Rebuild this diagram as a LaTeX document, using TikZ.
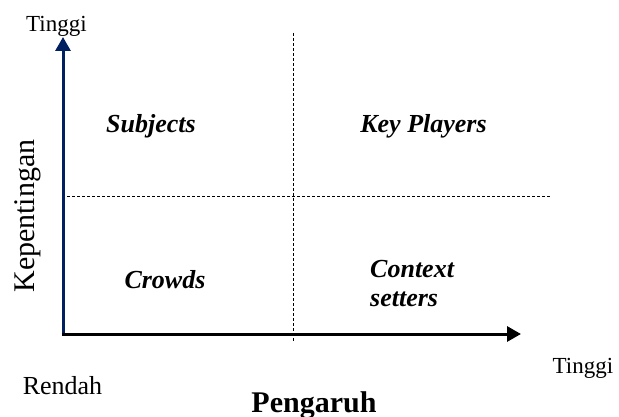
\documentclass[tikz,border=0pt]{standalone}
\usepackage{fontspec}
\setmainfont{Liberation Serif}
\usetikzlibrary{arrows.meta}
\definecolor{axisblue}{RGB}{0,32,96}
\tikzset{
  small/.style={font=\fontsize{23}{25}\selectfont, inner sep=0pt, anchor=base},
  title/.style={font=\fontsize{30}{32}\selectfont, inner sep=0pt},
  quad/.style={font=\fontsize{26}{28}\selectfont\bfseries\itshape, inner sep=0pt, anchor=base},
  axisline/.style={line width=3pt, -{Triangle[length=14pt,width=15pt]}},
  divider/.style={line width=0.9pt, dash pattern=on 3pt off 2pt}
}
\begin{document}
\begin{tikzpicture}[x=1pt,y=-1pt]
\useasboundingbox (0,0) rectangle (619,417);
\coordinate (O) at (63,334);
\coordinate (ytop) at (63,37);
\coordinate (xend) at (521,334);
\coordinate (vd1) at (293,33);
\coordinate (vd2) at (293,341);
\coordinate (hd1) at (67,196);
\coordinate (hd2) at (550,196);
\draw[divider] (vd1) -- (vd2);
\draw[divider] (hd1) -- (hd2);
\draw[axisline, axisblue] ([yshift=1.5pt]O) -- (ytop);
\draw[axisline, black] ([xshift=-1.5pt]O) -- (xend);
\node[small] (ttop) at (56.5,32) {Tinggi};
\node[small] (tright) at (583,373) {Tinggi};
\node[small, font=\fontsize{26}{28}\selectfont] (rendah) at (62.5,394) {Rendah};
\node[title, font=\fontsize{30}{32}\selectfont\bfseries, anchor=base] (pengaruh) at (314,412) {Pengaruh};
\node[title, rotate=90] (kep) at (28,216) {Kepentingan};
\node[quad] (subj) at (151,133) {Subjects};
\node[quad] (key) at (423.5,133) {Key Players};
\node[quad] (crowds) at (165,288) {Crowds};
\node[quad, anchor=base west] (ctx) at (370,277) {Context};
\node[quad, anchor=base west] (set) at (370,306) {setters};
\end{tikzpicture}
\end{document}
